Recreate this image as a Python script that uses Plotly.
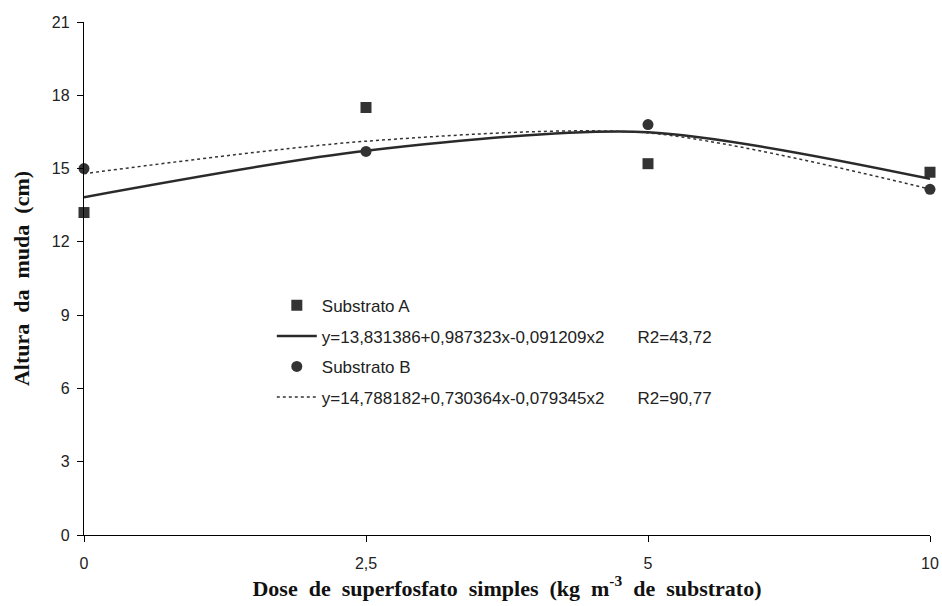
import plotly.graph_objects as go

doses = ["0", "2,5", "5", "10"]
obs_a = [13.2, 17.5, 15.2, 14.85]
obs_b = [15.0, 15.7, 16.8, 14.15]
fit_a = [13.83, 15.73, 16.49, 14.58]
fit_b = [14.79, 16.12, 16.46, 14.16]

gap = "\u00a0" * 7
eq_a = "y=13,831386+0,987323x-0,091209x2" + gap + "R2=43,72"
eq_b = "y=14,788182+0,730364x-0,079345x2" + gap + "R2=90,77"

sp = "\u00a0\u00a0"
x_title = "<b>" + sp.join(["Dose", "de", "superfosfato", "simples", "(kg", "m<sup>-3</sup>", "de", "substrato)"]) + "</b>"
y_title = "<b>" + sp.join(["Altura", "da", "muda", "(cm)"]) + "</b>"

fig = go.Figure()
fig.add_trace(go.Scatter(x=doses, y=obs_a, mode="markers", name="Substrato A",
                         marker=dict(symbol="square", size=11, color="#333333"),
                         cliponaxis=False, legendgroup="a1"))
fig.add_trace(go.Scatter(x=doses, y=fit_a, mode="lines", name=eq_a,
                         line=dict(color="#2a2a2a", width=2.5, shape="spline", smoothing=0.8),
                         cliponaxis=False, legendgroup="a2"))
fig.add_trace(go.Scatter(x=doses, y=obs_b, mode="markers", name="Substrato B",
                         marker=dict(symbol="circle", size=11, color="#333333"),
                         cliponaxis=False, legendgroup="b1"))
fig.add_trace(go.Scatter(x=doses, y=fit_b, mode="lines", name=eq_b,
                         line=dict(color="#333333", width=1.5, dash="dot", shape="spline", smoothing=0.8),
                         cliponaxis=False, legendgroup="b2"))

fig.update_layout(
    width=942, height=606,
    margin=dict(l=84, r=12, t=22, b=71),
    paper_bgcolor="white", plot_bgcolor="white",
    font=dict(family="Liberation Sans, Arial, sans-serif", size=16, color="#222222"),
    legend=dict(x=0.222, y=0.482, xanchor="left", yanchor="top",
                bgcolor="rgba(0,0,0,0)", font=dict(size=17, color="#222222"),
                tracegroupgap=5.5, itemwidth=40),
    showlegend=True,
)
fig.update_xaxes(
    type="category", range=[0, 3], automargin=False,
    showline=True, linecolor="black", linewidth=1.3,
    ticks="outside", ticklen=6, tickcolor="black", ticklabelstandoff=8,
    showgrid=False, zeroline=False,
    title=dict(text=x_title,
               font=dict(family="Liberation Serif, Times New Roman, serif", size=22, color="#111111"),
               standoff=8),
)
fig.update_yaxes(
    range=[0, 21], dtick=3, automargin=False,
    showline=True, linecolor="black", linewidth=1.3,
    ticks="outside", ticklen=6, tickcolor="black", ticklabelstandoff=4,
    showgrid=False, zeroline=False,
    title=dict(text=y_title,
               font=dict(family="Liberation Serif, Times New Roman, serif", size=22, color="#111111"),
               standoff=16),
)

fig.write_html("out.html")
